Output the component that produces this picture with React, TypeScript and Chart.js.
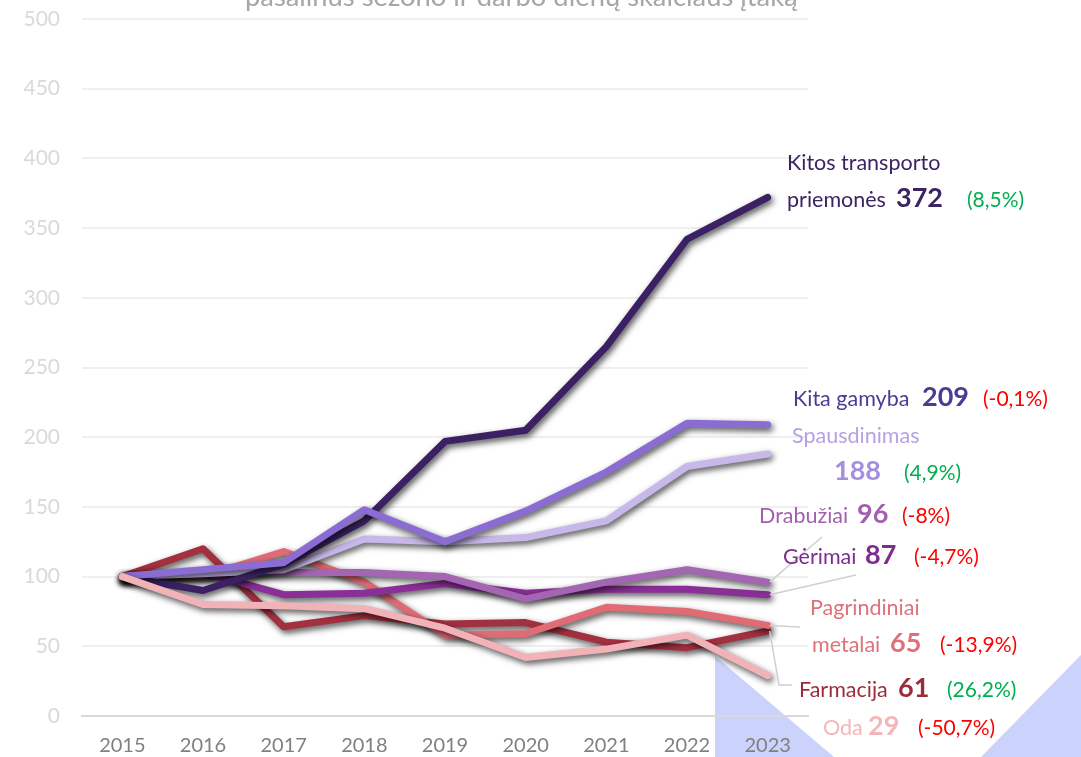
import React, { useEffect, useRef } from 'react';
import { Chart, registerables } from 'chart.js';

Chart.register(...registerables);

// ---------- data ----------
const years = ['2015', '2016', '2017', '2018', '2019', '2020', '2021', '2022', '2023'];
const seriesNames = [
  'Kitos transporto priemonės',
  'Kita gamyba',
  'Spausdinimas',
  'Drabužiai',
  'Gėrimai',
  'Pagrindiniai metalai',
  'Farmacija',
  'Oda',
];
const kitosTransporto = [100, 90, 109, 140, 197, 205, 265, 342, 372];
const kitaGamyba = [100, 105, 110, 148, 125, 147, 175, 210, 209];
const spausdinimas = [100, 102, 105, 127, 125, 128, 140, 179, 188];
const drabuziai = [100, 103, 103, 103, 100, 84, 96, 105, 96];
const gerimai = [100, 103, 87, 88, 95, 88, 91, 91, 87];
const pagrindiniaiMetalai = [100, 100, 118, 96, 58, 59, 78, 75, 65];
const farmacija = [100, 120, 64, 72, 66, 67, 53, 49, 61];
const oda = [100, 80, 79, 77, 63, 42, 48, 58, 29];
const changes = ['(8,5%)', '(-0,1%)', '(4,9%)', '(-8%)', '(-4,7%)', '(-13,9%)', '(26,2%)', '(-50,7%)'];
const yTicks = [0, 50, 100, 150, 200, 250, 300, 350, 400, 450, 500];
const titleText = 'pašalinus sezono ir darbo dienų skaičiaus įtaką';

const seriesValues = [kitosTransporto, kitaGamyba, spausdinimas, drabuziai, gerimai, pagrindiniaiMetalai, farmacija, oda];

// ---------- styles ----------
const FONT = 'Lato, "Noto Sans", sans-serif';
const lineColors = ['#3b2163', '#8b6cd3', '#c8b8e9', '#a466b3', '#8a2e98', '#e06b74', '#a2303f', '#f2b3b8'];
const nameColors = ['#3b2463', '#4c3a95', '#b4a2e4', '#a35fb0', '#7e2b8f', '#e0707a', '#9b2d3b', '#f3b6ba'];
const valueColors = ['#3b2463', '#4c3a95', '#a38fdd', '#a35fb0', '#7e2b8f', '#e0707a', '#9b2d3b', '#f3b6ba'];
const drawOrder = [2, 1, 3, 4, 5, 6, 7, 0]; // lower = on top
const GREEN = '#00b050';
const RED = '#ff0000';

// label layout: name line positions (x, baseline), value pos, change pos
const labelLayout = [
  { names: [[787, 170], [787, 207]], value: [896, 207], change: [967, 207] },
  { names: [[793, 406]], value: [922, 406], change: [983, 406] },
  { names: [[792, 443]], value: [834, 480], change: [904, 480] },
  { names: [[759, 523]], value: [857, 523], change: [902, 523] },
  { names: [[783, 564]], value: [865, 564], change: [914, 564] },
  { names: [[810, 615], [812, 652]], value: [890, 652], change: [940, 652] },
  { names: [[799, 697]], value: [898, 697], change: [947, 697] },
  { names: [[823, 735]], value: [868, 735], change: [918, 735] },
];
// leader polylines (series index, then path points after the line end)
const leaders: { s: number; pts: number[][] }[] = [
  { s: 3, pts: [[822, 537]] },
  { s: 4, pts: [[856, 575]] },
  { s: 5, pts: [[800, 627]] },
  { s: 6, pts: [[779, 685], [792, 685]] },
];

const decorPlugin = {
  id: 'decor',
  beforeDraw(chart: any) {
    const ctx = chart.ctx;
    ctx.save();
    ctx.fillStyle = '#ffffff';
    ctx.fillRect(0, 0, chart.width, chart.height);
    ctx.fillStyle = '#cbd2fb';
    ctx.beginPath();
    ctx.moveTo(715, 656);
    ctx.lineTo(834, 757);
    ctx.lineTo(715, 757);
    ctx.closePath();
    ctx.fill();
    ctx.beginPath();
    ctx.moveTo(1081, 655);
    ctx.lineTo(1081, 757);
    ctx.lineTo(981, 757);
    ctx.closePath();
    ctx.fill();
    ctx.restore();
  },
  beforeDatasetDraw(chart: any) {
    const ctx = chart.ctx;
    ctx.save();
    ctx.shadowColor = 'rgba(0,0,0,0.7)';
    ctx.shadowBlur = 6;
    ctx.shadowOffsetX = 2;
    ctx.shadowOffsetY = 3;
  },
  afterDatasetDraw(chart: any) {
    chart.ctx.restore();
  },
  afterDraw(chart: any) {
    const ctx = chart.ctx;
    const xs = chart.scales.x;
    const ys = chart.scales.y;
    ctx.save();
    // title (cut off at the top)
    ctx.fillStyle = '#a6a6a6';
    let size = 24;
    ctx.font = `${size}px ${FONT}`;
    const w = ctx.measureText(titleText).width;
    size = (size * 553) / w;
    ctx.font = `${size}px ${FONT}`;
    ctx.textBaseline = 'alphabetic';
    ctx.textAlign = 'left';
    ctx.fillText(titleText, 245, 6);

    // leader lines
    ctx.strokeStyle = '#d0d0d0';
    ctx.lineWidth = 1.5;
    leaders.forEach((l) => {
      const vals = seriesValues[l.s];
      const x0 = xs.getPixelForValue(vals.length - 1);
      const y0 = ys.getPixelForValue(vals[vals.length - 1]);
      ctx.beginPath();
      ctx.moveTo(x0 + 2, y0);
      l.pts.forEach((p) => ctx.lineTo(p[0], p[1]));
      ctx.stroke();
    });

    // labels
    labelLayout.forEach((lay, i) => {
      const name = seriesNames[i];
      let parts = [name];
      if (lay.names.length === 2) {
        const k = name.lastIndexOf(' ');
        parts = [name.slice(0, k), name.slice(k + 1)];
      }
      ctx.font = `21.5px ${FONT}`;
      ctx.fillStyle = nameColors[i];
      parts.forEach((p, j) => ctx.fillText(p, lay.names[j][0], lay.names[j][1]));
      const vals = seriesValues[i];
      ctx.font = `bold 27px ${FONT}`;
      ctx.fillStyle = valueColors[i];
      ctx.fillText(String(vals[vals.length - 1]), lay.value[0], lay.value[1]);
      ctx.font = `21px ${FONT}`;
      ctx.fillStyle = changes[i].includes('-') ? RED : GREEN;
      ctx.fillText(changes[i], lay.change[0], lay.change[1]);
    });
    ctx.restore();
  },
};

export default function App() {
  const ref = useRef<HTMLCanvasElement | null>(null);
  useEffect(() => {
    if (!ref.current) return;
    const chart = new Chart(ref.current, {
      type: 'line',
      data: {
        labels: years,
        datasets: seriesNames.map((n, i) => ({
          label: n,
          data: seriesValues[i],
          borderColor: lineColors[i],
          backgroundColor: lineColors[i],
          borderWidth: 7,
          borderCapStyle: 'round',
          borderJoinStyle: 'round',
          pointRadius: 0,
          tension: 0,
          order: drawOrder[i],
          clip: false,
        })),
      },
      options: {
        responsive: false,
        animation: false,
        layout: { padding: { top: 19, right: 273, left: 0, bottom: 0 } },
        plugins: {
          legend: { display: false },
          title: { display: false },
          tooltip: { enabled: false },
        },
        scales: {
          x: {
            type: 'category',
            offset: true,
            grid: { display: false, drawTicks: false },
            border: { display: true, color: '#d9d9d9', width: 2 },
            ticks: { color: '#808080', font: { size: 20, family: FONT }, padding: 18, maxRotation: 0 },
            afterFit: (s: any) => {
              s.height = 41;
              s.paddingLeft = 0;
              s.paddingRight = 0;
            },
          },
          y: {
            min: 0,
            max: 500,
            afterBuildTicks: (s: any) => {
              s.ticks = yTicks.map((v) => ({ value: v }));
            },
            grid: { color: '#efefef', lineWidth: 2, drawTicks: false },
            border: { display: false },
            ticks: { color: '#d9d9d9', font: { size: 21, family: FONT }, padding: 22 },
            afterFit: (s: any) => {
              s.width = 82;
              s.paddingTop = 0;
              s.paddingBottom = 0;
            },
          },
        },
      },
      plugins: [decorPlugin],
    } as any);
    return () => chart.destroy();
  }, []);
  return (
    <div style={{ position: 'absolute', left: 0, top: 0, width: 1081, height: 757 }}>
      <canvas ref={ref} width={1081} height={757} style={{ display: 'block' }} />
    </div>
  );
}
